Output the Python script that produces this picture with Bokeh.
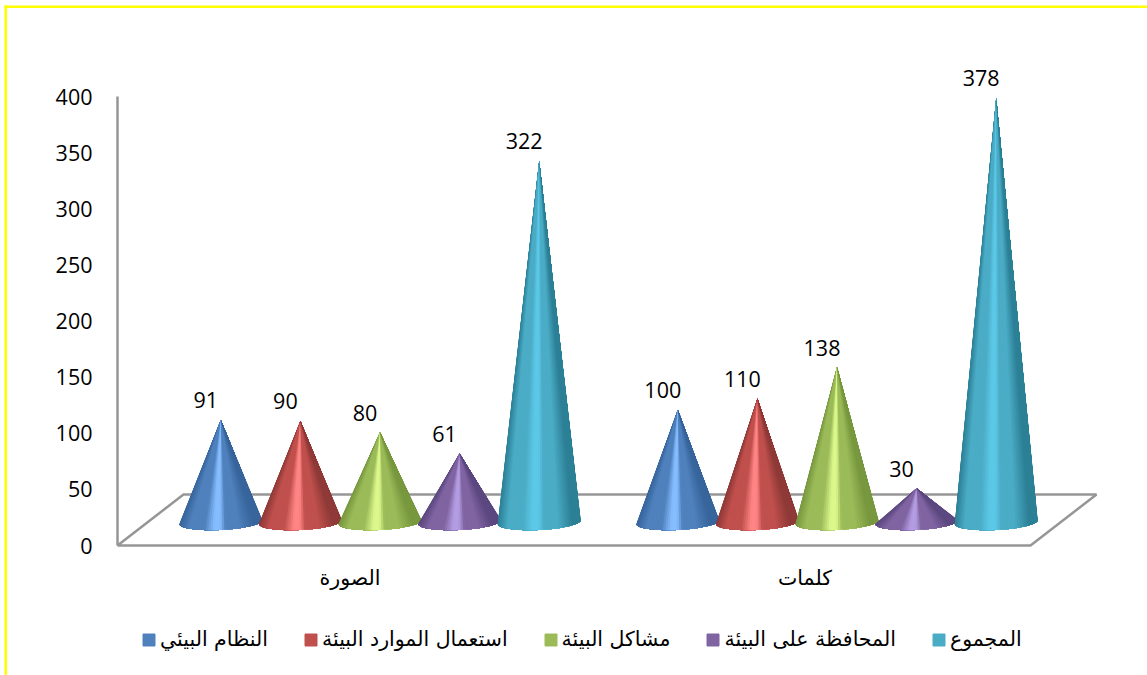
import numpy as np
from bokeh.embed import file_html
from bokeh.resources import INLINE
from bokeh.plotting import figure
from bokeh.models import (ColumnDataSource, FixedTicker, Range1d, Legend, LegendItem,
                          BoxAnnotation, LinearAxis)
from bokeh.core.properties import value

categories = ["الصورة", "كلمات"]
series_names = ["النظام البيئي", "استعمال الموارد البيئة", "مشاكل البيئة", "المحافظة على البيئة", "المجموع"]
nizam = [91, 100]
istimal = [90, 110]
mashakil = [80, 138]
muhafaza = [61, 30]
majmu = [322, 378]
y_ticks = [0, 50, 100, 150, 200, 250, 300, 350, 400]
series_values = [nizam, istimal, mashakil, muhafaza, majmu]

base_colors = ["#4F81BD", "#C0504D", "#9BBB59", "#8064A2", "#4BACC6"]
light_colors = ["#86BDFF", "#FF8585", "#DCF88C", "#B49CE2", "#5CC8E8"]
dark_colors = ["#38659C", "#8F3A38", "#78983F", "#5C4880", "#2C8096"]

ARABIC = "DejaVu Sans"
NUM = "Open Sans"
W, H = 1147, 675
PX_X = 455.0
PX_Y = 56.125 / 50
X0 = 349.5
Y0 = 545.0

p = figure(width=W, height=H, output_backend="svg", toolbar_location=None,
           x_range=Range1d((0 - X0) / PX_X, (W - X0) / PX_X),
           y_range=Range1d((Y0 - H) / PX_Y, (Y0 - 0) / PX_Y),
           min_border_left=0, min_border_right=0, min_border_top=0, min_border_bottom=0,
           background_fill_color="white", border_fill_color="white",
           outline_line_color=None, x_axis_type=None, y_axis_type=None)
p.grid.visible = False

x_l = (117 - X0) / PX_X
x_r = (1030 - X0) / PX_X

ax = LinearAxis(fixed_location=x_l, ticker=FixedTicker(ticks=y_ticks))
ax.axis_line_color = None
ax.major_tick_line_color = None
ax.minor_tick_line_color = None
ax.major_label_text_font = NUM
ax.major_label_text_font_size = "21.5px"
ax.major_label_text_color = "#000000"
ax.major_label_standoff = 19
p.add_layout(ax, "left")

bx = LinearAxis(fixed_location=0, ticker=FixedTicker(ticks=[0, 1]))
bx.major_label_overrides = {0: categories[0], 1: categories[1]}
bx.axis_line_color = None
bx.major_tick_line_color = None
bx.minor_tick_line_color = None
bx.major_label_text_font = ARABIC
bx.major_label_text_font_size = "20.5px"
bx.major_label_text_color = "#000000"
bx.major_label_standoff = 14
p.add_layout(bx, "below")

# frame of the 3D floor and back wall
dxn = 66 / PX_X
dyv = 51 / PX_Y
p.line([x_l, x_r, x_r + dxn, x_l + dxn, x_l], [0, 0, dyv, dyv, 0], line_color="#969696", line_width=2.5)
p.line([x_l, x_l], [0, 400], line_color="#969696", line_width=2.5)

# cones, painted strip by strip through the data scales
hw = 41.5 / PX_X
hb = 8.0 / PX_Y
tilt = 2.0 / PX_Y
base_v = 23.5 / PX_Y
shift = 30 / PX_X
step = 79.6 / PX_X
gap = 457 / PX_X


def hex2rgb(h):
    return np.array([int(h[i:i + 2], 16) for i in (1, 3, 5)], float)


def shade(u, s):
    stops = [0.0, 0.12, 0.3, 0.42, 0.49, 0.56, 0.72, 0.9, 1.0]
    cols = [dark_colors[s], base_colors[s], base_colors[s], light_colors[s], light_colors[s],
            base_colors[s], base_colors[s], dark_colors[s], dark_colors[s]]
    arr = np.array([hex2rgb(c) for c in cols])
    rgb = [np.interp(u, stops, arr[:, k]) for k in range(3)]
    return "#%02x%02x%02x" % tuple(int(round(c)) for c in rgb)


n = 60
thetas = np.linspace(np.pi + 0.18, -0.12, n + 1)
xs, ys, cs = [], [], []
lab_x, lab_y, lab_t = [], [], []
for g in range(len(categories)):
    for s, vals in enumerate(series_values):
        v = vals[g]
        cx = g * gap + shift + (s - 2) * step
        foot_x = cx + hw * np.cos(thetas)
        foot_y = base_v - hb * np.abs(np.sin(thetas)) + tilt * np.cos(thetas)
        for i in range(n):
            xs.append([cx] + list(foot_x[i:]))
            ys.append([base_v + v] + list(foot_y[i:]))
            cs.append(shade((np.cos((thetas[i] + thetas[i + 1]) / 2) + 1) / 2, s))
        lab_x.append(cx)
        lab_y.append(base_v + v)
        lab_t.append(str(v))

p.patches("xs", "ys", source=ColumnDataSource(dict(xs=xs, ys=ys, c=cs)),
          fill_color="c", line_color=None)

p.text("x", "y", text="t", source=ColumnDataSource(dict(x=lab_x, y=lab_y, t=lab_t)),
       x_offset=-15, y_offset=-19.5, text_align="center", text_baseline="middle",
       text_font=value(NUM), text_font_size="21.5px", text_color="#000000")

items = []
nan = float("nan")
for name, col in zip(series_names, base_colors):
    r = p.quad(left=[nan], right=[nan], top=[nan], bottom=[nan], fill_color=col, line_color=col)
    items.append(LegendItem(label=value(name), renderers=[r]))
leg = Legend(items=items, orientation="horizontal", location=(141, H - 651), spacing=35,
             glyph_width=15, glyph_height=15, label_standoff=4, padding=0, margin=0,
             border_line_color=None, background_fill_color=None,
             label_text_font=ARABIC, label_text_font_size="20.5px", label_text_color="#000000")
p.add_layout(leg, "center")

p.add_layout(BoxAnnotation(left=4, right=6.5, top=H - 5, bottom=0,
                           left_units="screen", right_units="screen",
                           top_units="screen", bottom_units="screen",
                           fill_color="#FFFF00", fill_alpha=1, line_color=None))
p.add_layout(BoxAnnotation(left=4, right=W, top=H - 5, bottom=H - 7.5,
                           left_units="screen", right_units="screen",
                           top_units="screen", bottom_units="screen",
                           fill_color="#FFFF00", fill_alpha=1, line_color=None))

open("out.html", "w").write(file_html(p, INLINE))
